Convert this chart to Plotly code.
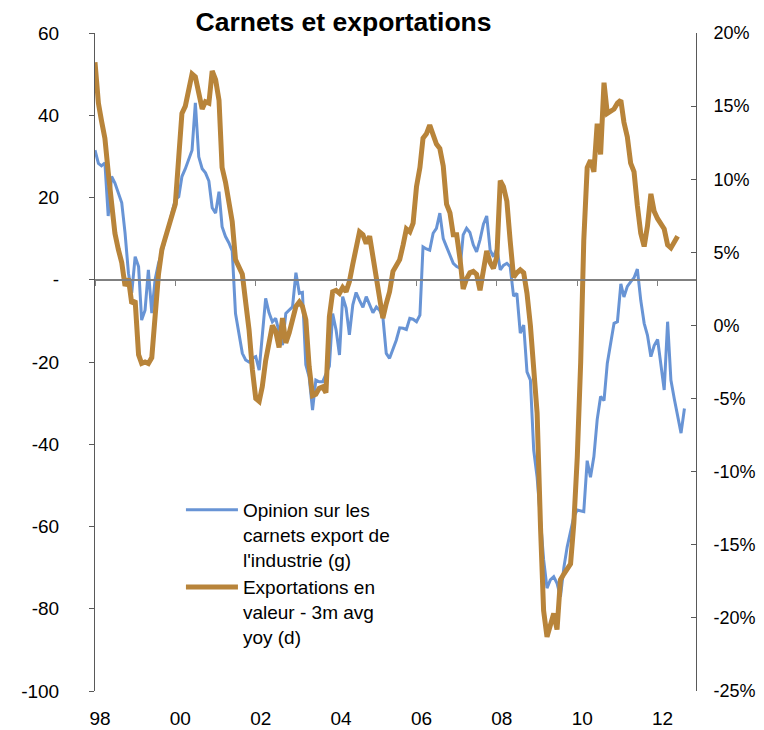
import pandas as pd
import plotly.graph_objects as go

# Opinion sur les carnets export de l'industrie (solde, échelle gauche) - mensuel depuis janv. 1998
carnets = [
    31.5, 28.3, 27.7, 28.4, 15.5, 25.1, 23.5, 21.0, 18.7, 11.4, 1.6, -3.2,
    5.6, 3.2, -9.8, -7.4, 2.4, -8.1, 0.0, 4.0, 6.5, 9.8, 12.9, 16.5,
    19.5, 20.2, 25.1, 27.0, 29.0, 31.5, 43.0, 29.9, 27.0, 26.0, 24.0, 17.5,
    16.2, 21.4, 12.9, 10.5, 9.0, 7.0, -8.2, -13.0, -17.9, -19.5, -20.0, -19.1,
    -18.7, -22.0, -13.0, -4.5, -8.0, -10.2, -9.4, -12.5, -15.9, -8.2, -7.5, -6.6,
    1.7, -3.3, -3.1, -20.7, -23.6, -31.7, -24.4, -24.8, -24.8, -23.0, -21.0, -8.2,
    -12.2, -18.3, -4.1, -6.9, -13.4, -6.1, -3.1, -5.0, -6.7, -4.1, -6.0, -8.0,
    -6.6, -7.5, -9.0, -17.9, -19.1, -17.0, -14.7, -11.7, -11.8, -12.1, -9.4, -9.6,
    -10.2, -8.6, 8.0, 7.5, 7.2, 11.3, 12.5, 16.2, 10.0, 8.0, 6.0, 4.0,
    3.2, 2.8, 10.9, 12.5, 11.5, 8.5, 6.8, 9.7, 13.5, 15.5, 7.2, 5.6,
    7.6, 2.4, 3.5, 4.0, 3.2, -4.0, -3.3, -13.0, -11.0, -22.4, -24.4, -41.4,
    -48.0, -58.0, -68.0, -75.0, -73.0, -72.2, -73.8, -77.1, -70.0, -65.0, -61.5, -57.6,
    -56.0, -56.2, -56.4, -44.0, -48.0, -43.0, -34.0, -28.4, -29.4, -20.3, -15.5, -10.6,
    -10.2, -1.0, -4.2, -1.6, -0.5, 0.5, 2.6, -5.0, -10.6, -13.5, -18.7, -16.0,
    -14.5, -21.1, -26.8, -10.2, -24.4, -29.0, -33.0, -37.3, -31.3,
]

# Exportations en valeur - 3m avg yoy (%, échelle droite) - mensuel depuis janv. 1998
exportations = [
    18.0, 15.2, 14.0, 12.8, 10.5, 8.6, 6.3, 5.2, 4.3, 2.7, 3.2, 1.5,
    1.7, -2.0, -2.6, -2.5, -2.6, -2.2, 0.5, 3.5, 5.2, 6.0, 6.6, 7.4,
    8.3, 11.5, 14.5, 15.0, 16.2, 17.2, 17.0, 15.8, 14.8, 15.3, 15.2, 17.4,
    16.8, 15.4, 10.8, 9.8, 8.6, 7.1, 4.5, 4.0, 3.5, 1.6, -0.3, -3.0,
    -5.0, -5.2, -4.2, -2.4, -1.0, 0.0, -0.4, -1.5, 0.5, -1.2, -0.5, 0.4,
    1.3, 1.6, 1.3, 0.4, -2.8, -4.8, -4.7, -4.3, -4.2, -4.6, 0.6, 2.3,
    2.4, 2.2, 2.6, 2.3, 3.0, 4.2, 5.5, 6.4, 6.2, 5.6, 6.1, 4.6,
    2.9, 1.7, 0.5, 1.5, 2.3, 3.7, 4.1, 4.5, 5.5, 6.6, 6.4, 7.0,
    9.5, 10.8, 12.8, 13.1, 13.7, 13.0, 12.4, 12.1, 10.9, 8.3, 7.7, 6.2,
    6.2, 4.5, 2.5, 3.2, 3.6, 3.7, 3.5, 2.4, 3.7, 5.1, 4.3, 3.9,
    4.7, 9.9, 9.5, 8.5, 5.8, 3.3, 3.6, 3.8, 3.6, 2.2, 0.0, -2.5,
    -6.0, -13.8, -19.5, -21.3, -20.5, -19.7, -20.8, -17.4, -17.0, -16.7, -16.3, -13.5,
    -9.0, -2.5, 5.8, 10.8, 11.3, 10.5, 13.8, 11.7, 16.6, 14.5, 14.7, 14.8,
    15.2, 15.4, 13.9, 12.9, 11.1, 10.5, 8.2, 6.3, 5.4, 6.8, 9.0, 7.8,
    7.3, 6.9, 6.6, 5.5, 5.3, 5.7, 6.1,
]

dates_carnets = pd.date_range("1998-01-01", periods=len(carnets), freq="MS")
dates_export = pd.date_range("1998-01-01", periods=len(exportations), freq="MS")

years = list(range(1998, 2013, 2))
x_ticktext = [f"{y % 100:02d}" for y in years]
left_tickvals = [-100, -80, -60, -40, -20, 0, 20, 40, 60]
left_ticktext = ["-100", "-80", "-60", "-40", "-20", "-", "20", "40", "60"]
right_tickvals = [-25, -20, -15, -10, -5, 0, 5, 10, 15, 20]
right_ticktext = [f"{v}%" for v in right_tickvals]

FONT = "Liberation Sans, Arial, sans-serif"
BLUE = "#6894D5"
GOLD = "#B8843A"
AX = "#595959"

fig = go.Figure()
fig.add_trace(go.Scatter(
    x=dates_carnets, y=carnets, mode="lines",
    name="Opinion sur les<br>carnets export de<br>l'industrie (g)",
    line=dict(color=BLUE, width=3), xaxis="x", yaxis="y",
))
fig.add_trace(go.Scatter(
    x=dates_export, y=exportations, mode="lines",
    name="Exportations en<br>valeur - 3m avg<br>yoy (d)",
    line=dict(color=GOLD, width=5), xaxis="x2", yaxis="y2",
))

# The page body adds an 8px offset, so the figure is sized 756x722.
W, H = 756, 722
xr = ["1998-01-01", "2012-12-15"]
fig.update_layout(
    width=W, height=H,
    margin=dict(l=87, r=68, t=25, b=39, autoexpand=False),
    paper_bgcolor="white", plot_bgcolor="white",
    font=dict(family=FONT, size=19, color="black"),
    title=dict(text="<b>Carnets et exportations</b>", font=dict(size=26.5, family=FONT, color="black"),
               x=335.5 / W, xref="container", xanchor="center",
               y=1 - 14 / H, yref="container", yanchor="middle", automargin=False),
    showlegend=True,
    legend=dict(x=0.143, y=0.304, xanchor="left", yanchor="top", bgcolor="rgba(0,0,0,0)",
                font=dict(size=19, family=FONT), itemwidth=52, valign="top",
                tracegroupgap=0),
    xaxis=dict(type="date", range=xr, showgrid=False, zeroline=False, showline=False,
               ticks="", tickvals=[f"{y}-02-15" for y in years], ticktext=x_ticktext,
               ticklabelstandoff=14, automargin=False),
    xaxis2=dict(type="date", range=xr, overlaying="x", anchor="free", position=0.625,
                showgrid=False, zeroline=False, showline=True, linecolor="#808080", linewidth=1.5,
                ticks="outside", ticklen=5, tickcolor="#808080", automargin=False,
                tickvals=[f"{y}-01-01" for y in years], showticklabels=False),
    yaxis=dict(range=[-100, 60], tickvals=left_tickvals, ticktext=left_ticktext,
               showgrid=False, zeroline=False, showline=True, linecolor=AX, linewidth=1,
               ticks="outside", ticklen=5, tickcolor=AX, ticklabelstandoff=26, automargin=False),
    yaxis2=dict(range=[-25, 20], tickvals=right_tickvals, ticktext=right_ticktext,
                overlaying="y", side="right", anchor="x", automargin=False,
                tickfont=dict(size=18, family=FONT),
                showgrid=False, zeroline=False, showline=True, linecolor=AX, linewidth=1,
                ticks="inside", ticklen=5, tickcolor=AX, ticklabelstandoff=13),
)

fig.write_html("out.html")
